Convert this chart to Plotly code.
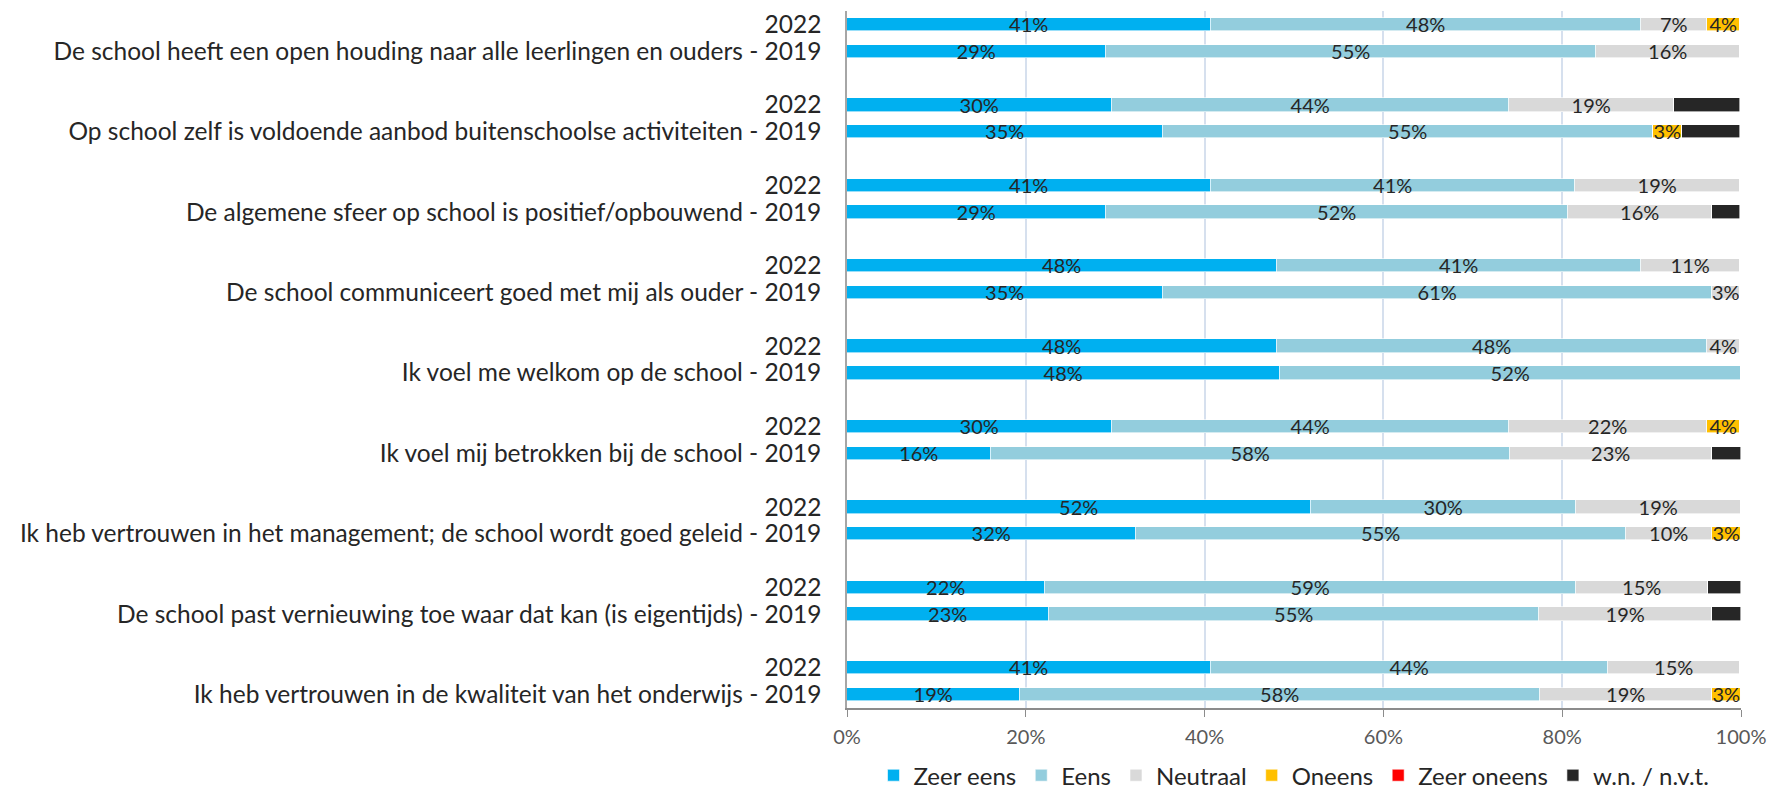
import plotly.graph_objects as go

# ---------------------------- DONNEES ----------------------------- #
vragen = [
    "De school heeft een open houding naar alle leerlingen en ouders",
    "Op school zelf is voldoende aanbod buitenschoolse activiteiten",
    "De algemene sfeer op school is positief/opbouwend",
    "De school communiceert goed met mij als ouder",
    "Ik voel me welkom op de school",
    "Ik voel mij betrokken bij de school",
    "Ik heb vertrouwen in het management; de school wordt goed geleid",
    "De school past vernieuwing toe waar dat kan (is eigentijds)",
    "Ik heb vertrouwen in de kwaliteit van het onderwijs",
]

antwoorden = ["Zeer eens", "Eens", "Neutraal", "Oneens", "Zeer oneens", "w.n. / n.v.t."]
kleuren = ["#00B0F0", "#93CDDD", "#D9D9D9", "#FFC000", "#FF0000", "#262626"]

# percentages per vraag, volgorde = antwoorden
waarden_2022 = [
    [40.7, 48.1, 7.4, 3.7, 0, 0],
    [29.6, 44.4, 18.5, 0, 0, 7.4],
    [40.7, 40.7, 18.5, 0, 0, 0],
    [48.1, 40.7, 11.1, 0, 0, 0],
    [48.1, 48.1, 3.7, 0, 0, 0],
    [29.6, 44.4, 22.2, 3.7, 0, 0],
    [51.9, 29.6, 18.5, 0, 0, 0],
    [22.2, 59.3, 14.8, 0, 0, 3.7],
    [40.7, 44.4, 14.8, 0, 0, 0],
]
waarden_2019 = [
    [29.0, 54.8, 16.1, 0, 0, 0],
    [35.4, 54.8, 0, 3.2, 0, 6.5],
    [29.0, 51.6, 16.1, 0, 0, 3.2],
    [35.4, 61.3, 3.2, 0, 0, 0],
    [48.4, 51.6, 0, 0, 0, 0],
    [16.1, 58.1, 22.6, 0, 0, 3.2],
    [32.3, 54.8, 9.7, 3.2, 0, 0],
    [22.6, 54.8, 19.4, 0, 0, 3.2],
    [19.4, 58.1, 19.3, 3.2, 0, 0],
]

FONT = "Lato, sans-serif"

# positions: 2022 puis 2019, une ligne vide entre les groupes
pos_2022 = [3 * i for i in range(len(vragen))]
pos_2019 = [3 * i + 1 for i in range(len(vragen))]
y_pos = pos_2022 + pos_2019
tick_text = ["2022"] * len(vragen) + [f"{v} - 2019" for v in vragen]

fig = go.Figure()
for k, (naam, kleur) in enumerate(zip(antwoorden, kleuren)):
    x = [r[k] for r in waarden_2022] + [r[k] for r in waarden_2019]
    if naam == "w.n. / n.v.t.":
        tekst = [""] * len(x)
    else:
        tekst = [f"{int(v + 0.5)}%" if v > 0 else "" for v in x]
    fig.add_trace(go.Bar(
        x=x,
        y=y_pos,
        orientation="h",
        name=naam,
        marker=dict(color=kleur, line=dict(color="white", width=0.6)),
        width=0.5,
        text=tekst,
        textposition="inside",
        insidetextanchor="middle",
        textangle=0,
        constraintext="none",
        textfont=dict(family=FONT, size=20, color="#262626"),
        cliponaxis=False,
    ))

# la page a une marge de 8 px : on décale tout vers le haut/gauche
fig.update_layout(
    width=1777,
    height=792,
    barmode="stack",
    plot_bgcolor="white",
    paper_bgcolor="white",
    margin=dict(l=839, r=44, t=3, b=92, autoexpand=False),
    font=dict(family=FONT, color="#262626"),
    legend=dict(
        orientation="h", x=0.5, y=-0.097, xanchor="center", yanchor="middle",
        font=dict(family=FONT, size=24, color="#262626"),
        traceorder="normal", itemwidth=30,
    ),
    bargap=0,
)
fig.update_xaxes(
    range=[0, 100], dtick=20, ticksuffix="%",
    showgrid=True, gridcolor="#D6E0EE", gridwidth=1.5,
    zeroline=False, automargin=False,
    showline=True, linecolor="#8C8C8C", linewidth=1.5,
    ticks="outside", tickcolor="#8C8C8C", ticklen=7,
    ticklabelstandoff=3,
    tickfont=dict(family=FONT, size=20, color="#595959"),
)
fig.update_yaxes(
    range=[25.5, -0.5],
    tickvals=y_pos, ticktext=tick_text,
    showgrid=False, zeroline=False, automargin=False,
    showline=True, linecolor="#A6A6A6", linewidth=1.5,
    ticks="", ticklabelstandoff=19, ticklabeloverflow="allow",
    tickfont=dict(family=FONT, size=24.5, color="#262626"),
)

fig.write_html("out.html")
